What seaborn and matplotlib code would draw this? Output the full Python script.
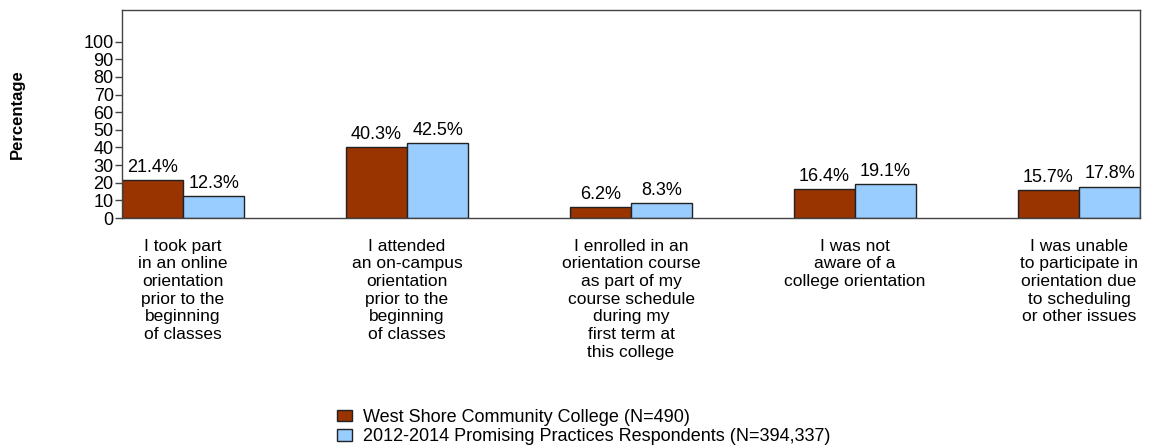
import numpy as np
import pandas as pd
import matplotlib
matplotlib.use("Agg")
import matplotlib.pyplot as plt
import seaborn as sns

# chart values
categories = [
    "I took part\nin an online\norientation\nprior to the\nbeginning\nof classes",
    "I attended\nan on-campus\norientation\nprior to the\nbeginning\nof classes",
    "I enrolled in an\norientation course\nas part of my\ncourse schedule\nduring my\nfirst term at\nthis college",
    "I was not\naware of a\ncollege orientation",
    "I was unable\nto participate in\norientation due\nto scheduling\nor other issues",
]
series = ["West Shore Community College (N=490)",
          "2012-2014 Promising Practices Respondents (N=394,337)"]
college_vals = [21.4, 40.3, 6.2, 16.4, 15.7]
national_vals = [12.3, 42.5, 8.3, 19.1, 17.8]
colors = ["#993300", "#99CCFF"]

df = pd.DataFrame({
    "cat": list(range(len(categories))) * 2,
    "group": [series[0]] * len(categories) + [series[1]] * len(categories),
    "value": college_vals + national_vals,
})

sns.set_style("white")
plt.rcParams["font.family"] = ["Liberation Sans", "DejaVu Sans"]
plt.rcParams["text.color"] = "black"
plt.rcParams["xtick.color"] = "black"
plt.rcParams["ytick.color"] = "black"
plt.rcParams["axes.labelcolor"] = "black"

fig = plt.figure(figsize=(11.49, 4.47), dpi=100)
ax = fig.add_axes([0.1062, 0.5123, 0.886, 0.4653])

sns.barplot(data=df, x="cat", y="value", hue="group", palette=colors,
            width=0.545, edgecolor="#222222", linewidth=1.0, ax=ax,
            legend=True, saturation=1)

for cont in ax.containers:
    ax.bar_label(cont, fmt="%.1f%%", padding=3, fontsize=13)

ax.set_xlim(-0.2725, len(categories) - 1 + 0.2725)
ax.set_ylim(0, 118)
ax.set_yticks(np.arange(0, 101, 10))
ax.tick_params(axis="y", length=5, width=1, labelsize=13, pad=1, left=True,
               color="#444444")
ax.set_xticks(range(len(categories)))
ax.set_xticklabels(categories, fontsize=12.5, linespacing=1.22, va="top")
ax.tick_params(axis="x", length=0, pad=15)
ax.set_xlabel("")
ax.set_ylabel("Percentage", fontweight="bold", fontsize=12)
ax.yaxis.set_label_coords(-0.095, 0.5)
for sp in ax.spines.values():
    sp.set_visible(True)
    sp.set_color("#444444")
    sp.set_linewidth(1)

handles, labels = ax.get_legend_handles_labels()
ax.get_legend().remove()
fig.legend(handles, labels, loc="upper left", bbox_to_anchor=(0.287, 0.102),
           frameon=False, fontsize=13, handlelength=0.85, handleheight=0.6,
           handletextpad=0.6, labelspacing=0.15, borderaxespad=0)

fig.savefig("out.png", dpi=100)
